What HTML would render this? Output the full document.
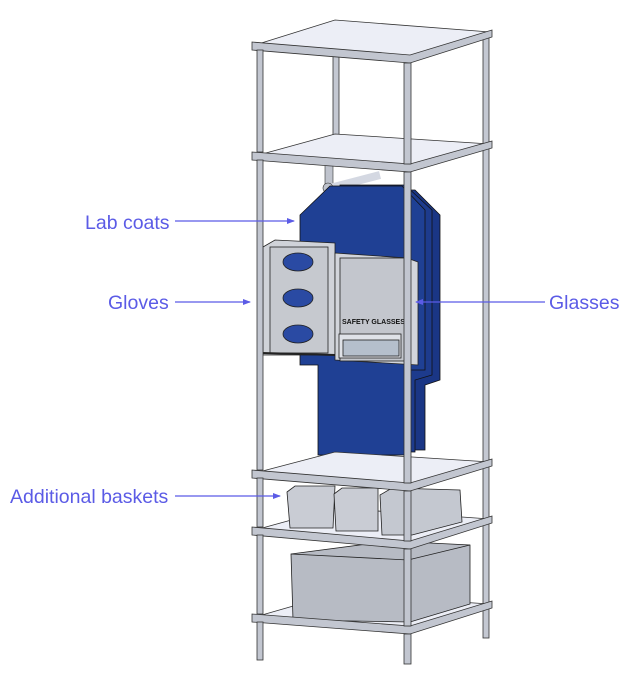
<!DOCTYPE html>
<html><head><style>
html,body{margin:0;padding:0;background:#fff;}
svg{display:block;}
text{font-family:"Liberation Sans",sans-serif;font-size:19.5px;fill:#5b5be6;}
</style></head><body>
<svg width="631" height="675" viewBox="0 0 631 675" xmlns="http://www.w3.org/2000/svg">
<defs>
<marker id="ar" markerWidth="8" markerHeight="8" refX="7" refY="4" orient="auto" markerUnits="userSpaceOnUse">
<path d="M0,1 L8,4 L0,7 z" fill="#5b5be6"/></marker>
</defs>
<g stroke="#333" stroke-width="0.8">
<rect x="333" y="22" width="6" height="140" fill="#c4c8d2"/>
<rect x="483" y="33" width="6" height="605" fill="#c4c8d2"/>
<g fill="#eceef6">
<path d="M255,45 L335,20 L490,32 L410,58 Z"/>
<path d="M255,156 L335,134 L490,144 L410,167 Z"/>
</g>
</g>
<rect x="325" y="162" width="8" height="25" fill="#bfc3cd" stroke="#333" stroke-width="0.6"/>
<path d="M330,188 L380,175" stroke="#d4d8e2" stroke-width="8"/>
<circle cx="328" cy="188" r="5" fill="#bfc3cd" stroke="#333" stroke-width="0.6"/>
<g stroke="#111" stroke-width="0.8">
<path d="M355,190 L415,190 L440,215 L440,380 L425,385 L425,450 L395,450 Z" fill="#1a3685"/>
<path d="M340,185 L405,185 L432,210 L432,375 L415,380 L415,452 L330,452 Z" fill="#1d3b8d"/>
<path d="M300,215 L330,186 L402,186 L425,210 L425,370 L410,370 L410,455 L318,455 L318,365 L300,365 Z" fill="#1f4094"/>
</g>
<g stroke="#222" stroke-width="0.8">
<rect x="258" y="262" width="15" height="90" fill="#e4e6ea"/>
<path d="M263,247 L275,240 L335,243 L335,355 L263,355 Z" fill="#d0d3d9"/>
<rect x="270" y="247" width="58" height="106" fill="#c6c9cf"/>
<ellipse cx="298" cy="262" rx="15" ry="9" fill="#2a4aa3"/>
<ellipse cx="298" cy="298" rx="15" ry="9" fill="#2a4aa3"/>
<ellipse cx="298" cy="334" rx="15" ry="9" fill="#2a4aa3"/>
<path d="M262,353 L335,355" stroke-width="2"/>
<path d="M335,253 L407,258 L418,262 L418,365 L335,360 Z" fill="#d2d5db"/>
<rect x="340" y="258" width="66" height="103" fill="#c3c6cd"/>
<rect x="339" y="334" width="62" height="24" fill="#dfe2e8"/>
<rect x="343" y="340" width="56" height="16" fill="#b5bfcc"/>
</g>
<text x="342" y="324" style="font-size:7px;fill:#111;font-weight:bold">SAFETY GLASSES</text>
<g stroke="#333" stroke-width="0.8" fill="#eceef6">
<path d="M255,473 L335,452 L490,462 L410,487 Z"/>
<path d="M255,530 L335,508 L490,519 L410,545 Z"/>
<path d="M255,617 L335,594 L490,604 L410,630 Z"/>
</g>
<g stroke="#222" stroke-width="0.8">
<path d="M287,492 L295,486 L335,486 L333,528 L290,528 Z" fill="#c9ccd4"/>
<path d="M334,494 L342,488 L378,488 L378,531 L336,531 Z" fill="#c9ccd4"/>
<path d="M380,495 L392,488 L460,490 L462,522 L412,535 L382,535 Z" fill="#c4c8d0"/>
<path d="M291,554 L390,541 L470,545 L470,604 L410,622 L293,620 Z" fill="#b7bbc4"/>
<path d="M291,554 L408,560 L470,545" fill="none"/>
<path d="M408,560 L410,622" fill="none"/>
</g>
<g stroke="#333" stroke-width="0.8" fill="#c2c6d0">
<path d="M252,42 L410,55 L492,30 L492,37 L410,63 L252,50 Z"/>
<path d="M252,152 L410,164 L492,141 L492,148 L410,172 L252,160 Z"/>
<path d="M252,470 L410,483 L492,459 L492,466 L410,491 L252,478 Z"/>
<path d="M252,527 L410,541 L492,516 L492,523 L410,549 L252,535 Z"/>
<path d="M252,614 L410,626 L492,601 L492,608 L410,634 L252,622 Z"/>
<rect x="257" y="50" width="6" height="102" />
<rect x="257" y="160" width="6" height="310" />
<rect x="257" y="478" width="6" height="49" />
<rect x="257" y="535" width="6" height="79" />
<rect x="257" y="622" width="6" height="38" />
<rect x="404" y="63" width="7" height="101" />
<rect x="404" y="172" width="7" height="311" />
<rect x="404" y="491" width="7" height="50" />
<rect x="404" y="549" width="7" height="77" />
<rect x="404" y="634" width="7" height="30" />
</g>
<g stroke="#5b5be6" stroke-width="1.2">
<line x1="175" y1="221" x2="294" y2="221" marker-end="url(#ar)"/>
<line x1="175" y1="302" x2="250" y2="302" marker-end="url(#ar)"/>
<line x1="545" y1="302" x2="416" y2="302" marker-end="url(#ar)"/>
<line x1="175" y1="496" x2="280" y2="496" marker-end="url(#ar)"/>
</g>
<text x="85" y="229">Lab coats</text>
<text x="108" y="309">Gloves</text>
<text x="549" y="309">Glasses</text>
<text x="10" y="503">Additional baskets</text>
</svg>
</body></html>
